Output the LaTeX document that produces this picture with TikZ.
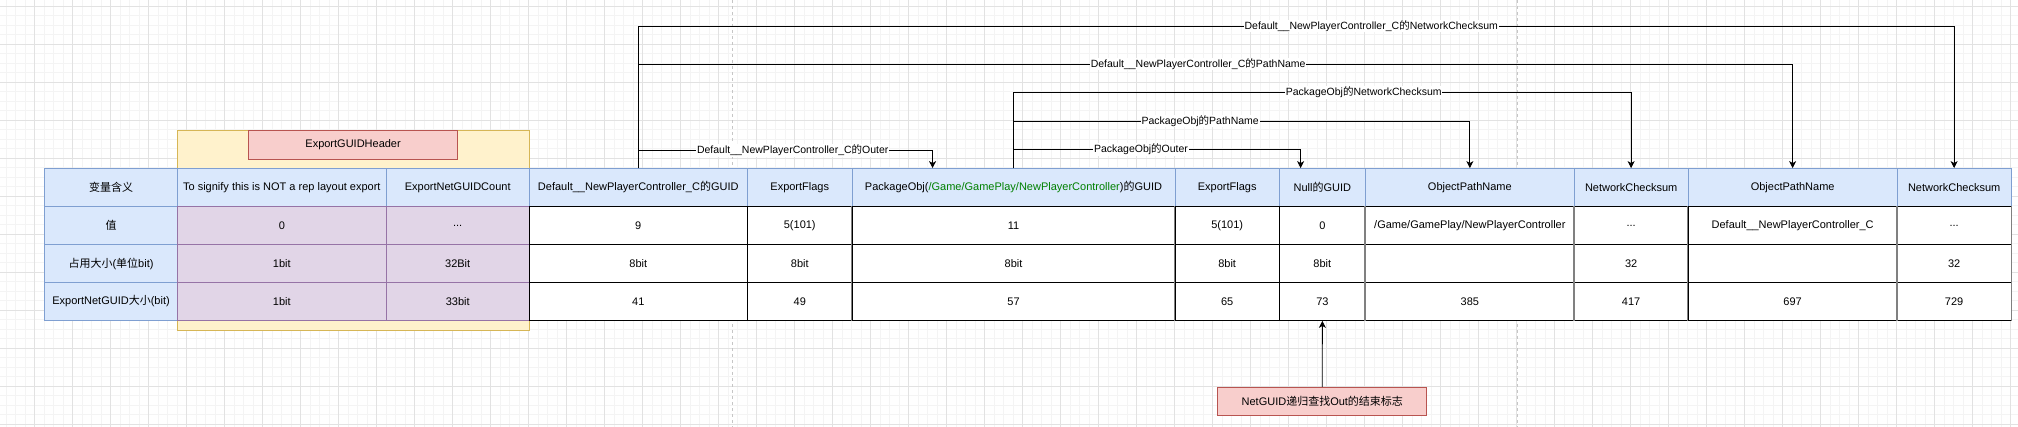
\documentclass[tikz,border=0pt]{standalone}
\usepackage{fontspec}
\setmainfont{Liberation Sans}
\newfontfamily\cjk{Noto Sans CJK SC}
\newcommand\zh[1]{{\cjk #1}}
\usetikzlibrary{arrows.meta,calc}
\definecolor{hblue}{HTML}{DAE8FC}
\definecolor{bblue}{HTML}{7F9FD1}
\definecolor{pfill}{HTML}{E1D5E7}
\definecolor{pline}{HTML}{9673A6}
\definecolor{yfill}{HTML}{FFF2CC}
\definecolor{yline}{HTML}{D6B656}
\definecolor{rfill}{HTML}{F8CECC}
\definecolor{rline}{HTML}{B85450}
\definecolor{gtext}{HTML}{008000}
\definecolor{gminor}{HTML}{F4F4F4}
\definecolor{gmajor}{HTML}{E2E2E2}
\definecolor{gborder}{HTML}{808080}
\newcommand\tcolumn[8]{%
  \node[cell,hdr,minimum width=#3pt] (h#1) at (#2,187.5) {#5};
  \node[cell,#4,minimum width=#3pt] (v#1) at (#2,225.5) {#6};
  \node[cell,#4,minimum width=#3pt] (s#1) at (#2,263.5) {#7};
  \node[cell,#4,minimum width=#3pt] (t#1) at (#2,301.5) {#8};
}
\begin{document}
\begin{tikzpicture}[x=1pt,y=-1pt,
  cell/.style={minimum height=38pt,inner sep=0pt,font=\fontsize{11}{13}\selectfont,line width=0.8pt},
  hdr/.style={fill=hblue,draw=bblue},
  pur/.style={fill=pfill,draw=pline},
  wht/.style={fill=white,draw=black},
  gline/.style={draw=gborder,line width=1.6pt},
  conn/.style={draw=black,line width=0.8pt,-{Stealth[length=7pt,width=7pt,inset=2pt]}},
  lbl/.style={fill=white,inner sep=0.8pt,font=\fontsize{10.5}{12}\selectfont},
  redbox/.style={fill=rfill,draw=rline,line width=0.9pt,inner sep=0pt,font=\fontsize{11}{13}\selectfont},
  ybox/.style={fill=yfill,draw=yline,line width=0.9pt,inner sep=0pt},
  minorgrid/.style={draw=gminor,line width=0.6pt},
  majorgrid/.style={draw=gmajor,line width=0.8pt},
  pagebreak/.style={draw=gray!45,line width=0.6pt,dash pattern=on 3pt off 3pt}
]
\useasboundingbox (0,0) rectangle (2018,427);
\fill[white] (0,0) rectangle (2018,427);
% background grid
\foreach \i in {0,...,214} \draw[minorgrid] ({-3.7+9.5*\i},0) -- ({-3.7+9.5*\i},427);
\foreach \i in {0,...,45} \draw[minorgrid] (0,{-3.5+9.5*\i}) -- (2018,{-3.5+9.5*\i});
\foreach \i in {0,...,54} \draw[majorgrid] ({-3.7+38*\i},0) -- ({-3.7+38*\i},427);
\foreach \i in {0,...,11} \draw[majorgrid] (0,{6+38*\i}) -- (2018,{6+38*\i});
\draw[pagebreak] (732.6,0) -- (732.6,427);
\draw[pagebreak] (1517,0) -- (1517,427);

% export GUID header background
\node[ybox,minimum width=352pt,minimum height=200pt] (yb) at (353.3,230) {};

% table
\tcolumn{0}{111.05}{132.5}{hdr}{\zh{变量含义}}{\zh{值}}{\zh{占用大小}(\zh{单位}bit)}{ExportNetGUID\zh{大小}(bit)}
\tcolumn{1}{281.85}{209.1}{pur}{To signify this is NOT a rep layout export}{0}{1bit}{1bit}
\tcolumn{2}{457.7}{142.6}{pur}{ExportNetGUIDCount}{...}{32Bit}{33bit}
\tcolumn{3}{638.25}{218.5}{wht}{Default\_\_NewPlayerController\_C\zh{的}GUID}{9}{8bit}{41}
\tcolumn{4}{799.75}{104.5}{wht}{ExportFlags}{5(101)}{8bit}{49}
\tcolumn{5}{1013.5}{323}{wht}{PackageObj(\textcolor{gtext}{/Game/GamePlay/NewPlayerController})\zh{的}GUID}{11}{8bit}{57}
\tcolumn{6}{1227.15}{104.3}{wht}{ExportFlags}{5(101)}{8bit}{65}
\tcolumn{7}{1322.35}{86.1}{wht}{Null\zh{的}GUID}{0}{8bit}{73}
\tcolumn{8}{1469.85}{208.9}{wht}{ObjectPathName}{/Game/GamePlay/NewPlayerController}{}{385}
\tcolumn{9}{1631.15}{113.7}{wht}{NetworkChecksum}{...}{32}{417}
\tcolumn{10}{1792.65}{209.3}{wht}{ObjectPathName}{Default\_\_NewPlayerController\_C}{}{697}
\tcolumn{11}{1954.15}{113.7}{wht}{NetworkChecksum}{...}{32}{729}

% gray column separators
\foreach \c in {5,6,8,9,10,11} \draw[gline] (v\c.north west) -- (t\c.south west);
\draw[gline] (v11.north east) -- (t11.south east);

\node[redbox,minimum width=209pt,minimum height=28.7pt] (eh) at (353.1,145) {ExportGUIDHeader};

% connectors
\coordinate (p5) at ($(h5.north west)!0.25!(h5.north east)$);
\coordinate (p7) at ($(h7.north west)!0.25!(h7.north east)$);
\draw[conn] (h3.north) -- (h3.north |- 0,26) -- node[lbl,pos=0.557]{Default\_\_NewPlayerController\_C\zh{的}NetworkChecksum} (h11.north |- 0,26) -- (h11.north);
\draw[conn] (h3.north) -- (h3.north |- 0,64) -- node[lbl,pos=0.485]{Default\_\_NewPlayerController\_C\zh{的}PathName} (h10.north |- 0,64) -- (h10.north);
\draw[conn] (h5.north) -- (h5.north |- 0,92.3) -- node[lbl,pos=0.567]{PackageObj\zh{的}NetworkChecksum} (h9.north |- 0,92.3) -- (h9.north);
\draw[conn] (h5.north) -- (h5.north |- 0,121) -- node[lbl,pos=0.409]{PackageObj\zh{的}PathName} (h8.north |- 0,121) -- (h8.north);
\draw[conn] (h5.north) -- (h5.north |- 0,149.3) -- node[lbl,pos=0.444]{PackageObj\zh{的}Outer} (p7 |- 0,149.3) -- (p7);
\draw[conn] (h3.north) -- (h3.north |- 0,150.3) -- node[lbl,pos=0.525]{Default\_\_NewPlayerController\_C\zh{的}Outer} (p5 |- 0,150.3) -- (p5);

% bottom note
\node[redbox,minimum width=209pt,minimum height=28pt] (note) at (1322.3,401.3) {NetGUID\zh{递归查找}Out\zh{的结束标志}};
\draw[conn] (note.north) -- (t7.south);
\end{tikzpicture}
\end{document}
